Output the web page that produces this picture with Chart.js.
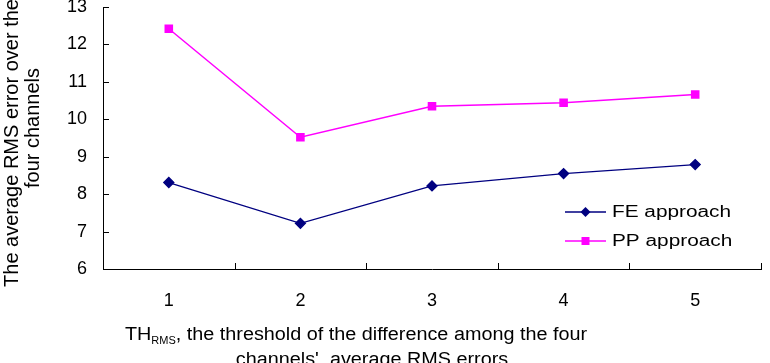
<!DOCTYPE html>
<html>
<head>
<meta charset="utf-8">
<script src="https://cdn.jsdelivr.net/npm/chart.js@4.4.1/dist/chart.umd.min.js"></script>
<style>
  html, body { margin: 0; padding: 0; background: #fff; }
  canvas { display: block; }
</style>
</head>
<body>
<canvas id="rmsChart" width="770" height="363"></canvas>
<script>
const thresholds = ['1', '2', '3', '4', '5'];
const feValues = [8.31, 7.22, 8.22, 8.55, 8.79];
const ppValues = [12.42, 9.52, 10.35, 10.44, 10.66];
const yTicks = [6, 7, 8, 9, 10, 11, 12, 13];
const legendLabels = ['FE approach', 'PP approach'];
const yTitle = ['The average RMS error over the', 'four channels'];

const FONT = '"Liberation Sans", Arial, sans-serif';

// text drawn a bit wider, like the scanned figure
function wideText(ctx, text, x, y, size, stretch, align) {
  ctx.save();
  ctx.font = size + 'px ' + FONT;
  const w = ctx.measureText(text).width * stretch;
  let left = x;
  if (align === 'center') left = x - w / 2;
  ctx.translate(left, y);
  ctx.scale(stretch, 1);
  ctx.textAlign = 'left';
  ctx.fillText(text, 0, 0);
  ctx.restore();
  return w;
}

const extrasPlugin = {
  id: 'extras',
  afterDraw(chart) {
    const ctx = chart.ctx;
    const xs = chart.scales.x;
    const ys = chart.scales.y;
    const area = chart.chartArea;
    ctx.save();
    ctx.strokeStyle = '#000';
    ctx.lineWidth = 1;
    // inside tick marks
    ctx.beginPath();
    yTicks.forEach(v => {
      const py = Math.round(ys.getPixelForValue(v)) + 0.5;
      ctx.moveTo(area.left, py);
      ctx.lineTo(area.left + 6, py);
    });
    const step = (area.right - area.left) / thresholds.length;
    for (let i = 1; i <= thresholds.length; i++) {
      const px = Math.round(area.left + i * step) + 0.5;
      ctx.moveTo(px, area.bottom);
      ctx.lineTo(px, area.bottom - 6);
    }
    ctx.stroke();

    // legend
    ctx.fillStyle = '#000';
    ctx.textBaseline = 'middle';
    const ds = chart.data.datasets;
    [212, 241].forEach((ly, i) => {
      const d = ds[i];
      ctx.strokeStyle = d.borderColor;
      ctx.lineWidth = d.borderWidth;
      ctx.beginPath();
      ctx.moveTo(565, ly);
      ctx.lineTo(606, ly);
      ctx.stroke();
      ctx.fillStyle = d.pointBackgroundColor;
      const r = d.pointRadius;
      ctx.beginPath();
      if (d.pointStyle === 'rectRot') {
        ctx.moveTo(585.5, ly - r); ctx.lineTo(585.5 + r, ly);
        ctx.lineTo(585.5, ly + r); ctx.lineTo(585.5 - r, ly);
        ctx.closePath();
      } else {
        ctx.rect(585.5 - r * 0.8, ly - r * 0.8, r * 1.6, r * 1.6);
      }
      ctx.fill();
      ctx.fillStyle = '#000';
      wideText(ctx, legendLabels[i], 612, ly + 1, 16, 1.3, 'left');
    });

    // y title, rotated
    ctx.fillStyle = '#000';
    ctx.textBaseline = 'middle';
    ctx.font = '20px ' + FONT;
    ctx.textAlign = 'center';
    [[12, 143], [33, 128]].forEach(([tx, ty], i) => {
      ctx.save();
      ctx.translate(tx, ty);
      ctx.rotate(-Math.PI / 2);
      ctx.fillText(yTitle[i], 0, 0);
      ctx.restore();
    });

    // x title with subscript
    ctx.textBaseline = 'alphabetic';
    const main = 'TH';
    const sub = 'RMS';
    const rest = ', the threshold of the difference among the four';
    const st = 1.1;
    ctx.font = '18px ' + FONT;
    const w1 = ctx.measureText(main).width * st;
    const w3 = ctx.measureText(rest).width * st;
    ctx.font = '10px ' + FONT;
    const w2 = ctx.measureText(sub).width * st;
    let x0 = 356 - (w1 + w2 + w3) / 2;
    wideText(ctx, main, x0, 340, 18, st, 'left');
    wideText(ctx, sub, x0 + w1, 344, 10, st, 'left');
    wideText(ctx, rest, x0 + w1 + w2, 340, 18, st, 'left');
    wideText(ctx, "channels'  average RMS errors", 372, 365, 18, st, 'center');
    ctx.restore();
  }
};

new Chart(document.getElementById('rmsChart'), {
  type: 'line',
  data: {
    labels: thresholds,
    datasets: [
      {
        label: legendLabels[0],
        data: feValues,
        borderColor: '#000080',
        backgroundColor: '#000080',
        pointBackgroundColor: '#000080',
        pointBorderColor: '#000080',
        borderWidth: 1.3,
        pointStyle: 'rectRot',
        pointRadius: 5,
        tension: 0
      },
      {
        label: legendLabels[1],
        data: ppValues,
        borderColor: '#ff00ff',
        backgroundColor: '#ff00ff',
        pointBackgroundColor: '#ff00ff',
        pointBorderColor: '#ff00ff',
        borderWidth: 1.5,
        pointStyle: 'rect',
        pointRadius: 5,
        tension: 0
      }
    ]
  },
  options: {
    responsive: false,
    animation: false,
    layout: { padding: { top: 7, right: 9, left: 0, bottom: 0 } },
    plugins: {
      legend: { display: false },
      tooltip: { enabled: false }
    },
    scales: {
      x: {
        offset: true,
        grid: { display: false, drawTicks: false },
        border: { display: true, color: '#000', width: 1 },
        ticks: {
          padding: 21,
          color: '#000',
          font: { family: FONT, size: 18 }
        },
        afterFit(scale) {
          scale.height = 94;
          scale.paddingLeft = 0;
          scale.paddingRight = 0;
        }
      },
      y: {
        min: 6,
        max: 13,
        afterBuildTicks(scale) {
          scale.ticks = yTicks.map(v => ({ value: v }));
        },
        grid: { display: false, drawTicks: false },
        border: { display: true, color: '#000', width: 1 },
        ticks: {
          padding: 16,
          color: '#000',
          font: { family: FONT, size: 18 }
        },
        afterFit(scale) {
          scale.width = 103;
          scale.paddingTop = 0;
          scale.paddingBottom = 0;
        }
      }
    }
  },
  plugins: [extrasPlugin]
});
</script>
</body>
</html>
